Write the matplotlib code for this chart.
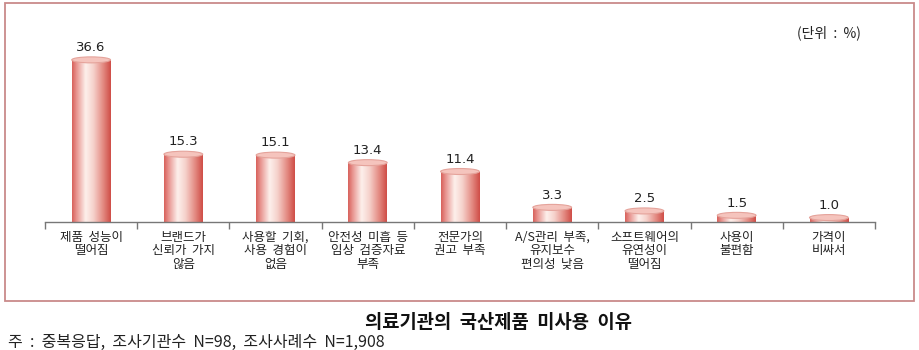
import numpy as np
import matplotlib
matplotlib.use("Agg")
import matplotlib.pyplot as plt
from matplotlib.patches import Ellipse, Rectangle
from matplotlib.colors import LinearSegmentedColormap

plt.rcParams['font.family'] = ['Noto Sans CJK KR', 'DejaVu Sans']

categories = ["제품  성능이\n떨어짐", "브랜드가\n신뢰가  가지\n않음", "사용할  기회,\n사용  경험이\n없음",
              "안전성  미흡  등\n임상  검증자료\n부족", "전문가의\n권고  부족", "A/S관리  부족,\n유지보수\n편의성  낮음",
              "소프트웨어의\n유연성이\n떨어짐", "사용이\n불편함", "가격이\n비싸서"]
values = [36.6, 15.3, 15.1, 13.4, 11.4, 3.3, 2.5, 1.5, 1.0]
value_labels = ["36.6", "15.3", "15.1", "13.4", "11.4", "3.3", "2.5", "1.5", "1.0"]

W, H = 920, 350
fig = plt.figure(figsize=(W / 100, H / 100), dpi=100)

# outer border
fig.add_artist(Rectangle((5 / W, 1 - 301 / H), 909 / W, 298 / H, transform=fig.transFigure,
                         fill=False, edgecolor='#c98a8a', linewidth=1.3))

ax = fig.add_axes([45 / W, (H - 222) / H, 830 / W, 202 / H])
ax.set_xlim(-0.5, 8.5)
ax.set_ylim(0, 45.6)
for s in ['top', 'right', 'left']:
    ax.spines[s].set_visible(False)
ax.spines['bottom'].set_color('#777777')
ax.spines['bottom'].set_linewidth(1.0)
ax.set_yticks([])
ax.set_xticks(np.arange(-0.5, 9.0, 1.0))
ax.set_xticklabels([])
ax.tick_params(axis='x', direction='out', length=5, color='#777777', width=1.0)

x = np.arange(len(values))
bw = 0.42
bars = ax.bar(x, values, width=bw, color='none', edgecolor='none', zorder=2)

cmap = LinearSegmentedColormap.from_list('cyl', [
    (0.0, '#d8605a'), (0.12, '#e89590'), (0.35, '#fdf0ec'), (0.55, '#f6d2cc'),
    (0.8, '#e38a82'), (1.0, '#cf4c46')])
grad = np.linspace(0, 1, 256).reshape(1, -1)
ell_h = 1.35
for b, lab in zip(bars, value_labels):
    x0, w, h = b.get_x(), b.get_width(), b.get_height()
    im = ax.imshow(grad, cmap=cmap, aspect='auto', extent=(x0, x0 + w, 0, h),
                   zorder=2, interpolation='bicubic')
    im.set_clip_path(b)
    top = Ellipse((x0 + w / 2, h), w, ell_h, facecolor='#f5c4bd', edgecolor='#e5a39b',
                  linewidth=0.8, zorder=3)
    ax.add_patch(top)
    ax.text(x0 + w / 2, h + 1.3, lab, ha='center', va='bottom',
            fontsize=9.5, color='#222222', family=['DejaVu Sans'], zorder=4)

for xi, lab in zip(x, categories):
    ax.text(xi, -2.0, lab, ha='center', va='top', fontsize=9, color='#222222',
            linespacing=1.06, clip_on=False)

fig.text(829 / W, 1 - 33 / H, "(단위  :  %)", ha='center', va='center', fontsize=10, color='#222222')
fig.text(499 / W, 1 - 323 / H, "의료기관의  국산제품  미사용  이유", ha='center', va='center',
         fontsize=13.5, color='#111111', fontweight='bold')
fig.text(8 / W, 1 - 342 / H, "주  :  중복응답,  조사기관수  N=98,  조사사례수  N=1,908", ha='left', va='center',
         fontsize=11.5, color='#222222')

fig.savefig("out.png", dpi=100)
